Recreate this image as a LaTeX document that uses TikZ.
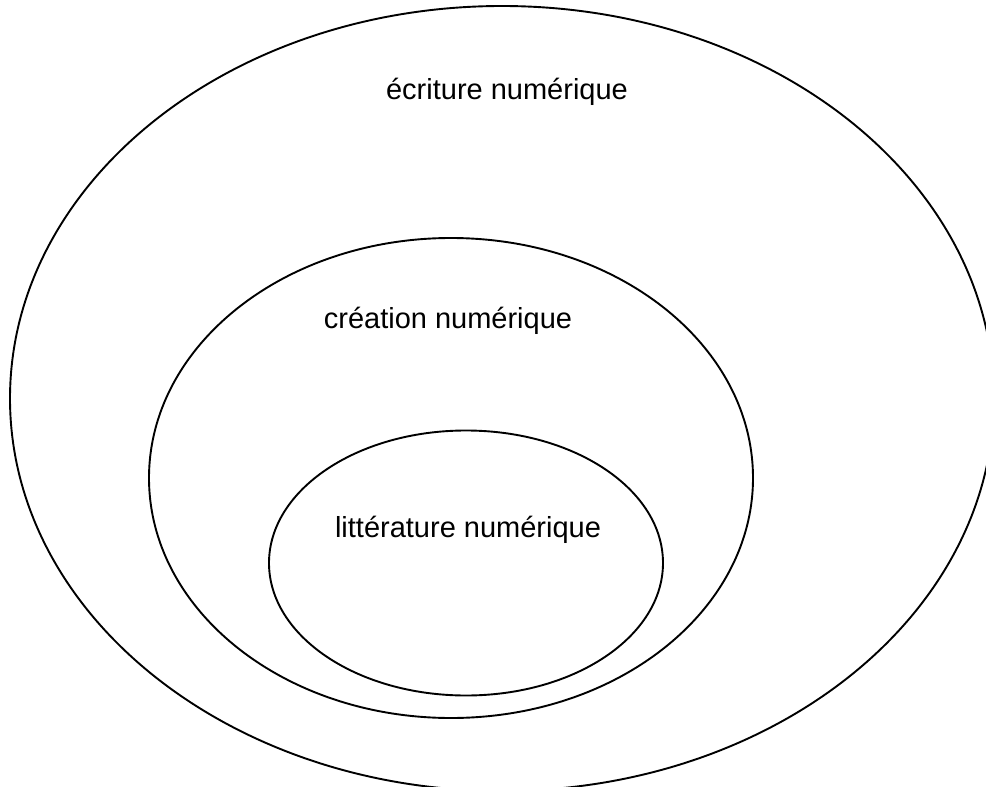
\documentclass[tikz,border=0pt]{standalone}
\usepackage{fontspec}
\setmainfont{Liberation Sans}
\begin{document}
\begin{tikzpicture}[x=1pt,y=-1pt,
  ring/.style={draw=black,line width=1.9pt},
  lbl/.style={anchor=base,inner sep=0pt,font=\fontsize{29}{34}\selectfont}]
\useasboundingbox (0,0) rectangle (986,787);
\draw[ring] (502,398.5) ellipse [x radius=492, y radius=392.5];
\draw[ring] (451,478) ellipse [x radius=302, y radius=240];
\draw[ring] (466,563) ellipse [x radius=197, y radius=132.5];
\node[lbl] (ecriture) at (507,99) {écriture numérique};
\node[lbl] (creation) at (448,328) {création numérique};
\node[lbl] (litterature) at (468,537) {littérature numérique};
\end{tikzpicture}
\end{document}
